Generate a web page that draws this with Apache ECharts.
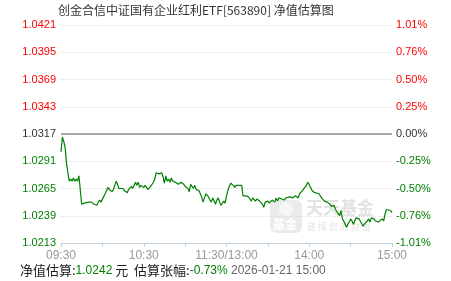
<!DOCTYPE html>
<html>
<head>
<meta charset="utf-8">
<script src="https://cdn.jsdelivr.net/npm/echarts@6/dist/echarts.min.js"></script>
<style>
html,body{margin:0;padding:0;background:#fff;}
#c{width:451px;height:281px;}
</style>
</head>
<body>
<div id="c"></div>
<script>
// ---- data ----
var titleText = '创金合信中证国有企业红利ETF[563890] 净值估算图';
var baseNav = 1.0317;
var navStep = 0.0026;
var leftLabels = ['1.0213','1.0239','1.0265','1.0291','1.0317','1.0343','1.0369','1.0395','1.0421'];
var rightLabels = ['-1.01%','-0.76%','-0.50%','-0.25%','0.00%','0.25%','0.50%','0.76%','1.01%'];
var timeLabels = ['09:30','10:30','11:30/13:00','14:00','15:00'];
var minutes = [0,1,2,3,4,5,6,7,8,9,10,11,12,13,14,15,16,17,18,20,21,22,23,24,26,27,28,29,30,32,33,34,35,37,38,39,40,41,42,43,45,46,47,48,49,51,52,53,54,55,56,57,58,60,61,62,63,65,67,68,69,71,72,73,74,75,76,77,78,79,80,81,83,84,85,86,87,89,90,91,92,93,94,95,96,97,98,100,101,102,103,104,105,106,107,108,109,110,111,112,113,114,115,116,117,118,119,120,121,122,123,124,125,126,127,128,129,130,131,132,133,134,135,136,137,138,139,141,142,143,144,145,146,147,148,150,151,152,153,155,156,157,158,160,161,162,163,164,166,167,168,169,170,172,173,174,175,176,178,179,180,181,182,183,184,185,187,188,189,190,191,193,194,195,196,198,199,200,201,202,203,204,205,206,207,208,209,210,211,212,213,214,216,217,218,219,220,222,223,224,225,227,228,229,230,231,233,234,235,236,237,239,240];
var navs = [1.0300,1.0314,1.0310,1.0304,1.0289,1.0280,1.0272,1.0274,1.0272,1.0275,1.0272,1.0274,1.0272,1.0277,1.0276,1.0250,1.0250,1.0251,1.0250,1.0252,1.0253,1.0252,1.0252,1.0250,1.0249,1.0252,1.0254,1.0252,1.0253,1.0260,1.0263,1.0266,1.0264,1.0262,1.0264,1.0263,1.0272,1.0269,1.0265,1.0264,1.0265,1.0263,1.0262,1.0261,1.0264,1.0267,1.0265,1.0268,1.0271,1.0268,1.0271,1.0266,1.0268,1.0266,1.0268,1.0266,1.0264,1.0267,1.0271,1.0274,1.0280,1.0279,1.0280,1.0280,1.0276,1.0270,1.0277,1.0272,1.0274,1.0271,1.0275,1.0272,1.0271,1.0271,1.0269,1.0268,1.0271,1.0269,1.0267,1.0268,1.0265,1.0262,1.0269,1.0268,1.0265,1.0268,1.0264,1.0263,1.0260,1.0257,1.0252,1.0256,1.0260,1.0261,1.0257,1.0254,1.0252,1.0256,1.0253,1.0250,1.0254,1.0256,1.0252,1.0249,1.0251,1.0253,1.0251,1.0258,1.0263,1.0267,1.0270,1.0271,1.0268,1.0266,1.0268,1.0267,1.0268,1.0269,1.0268,1.0258,1.0259,1.0258,1.0257,1.0257,1.0255,1.0253,1.0256,1.0253,1.0255,1.0256,1.0253,1.0252,1.0250,1.0247,1.0252,1.0253,1.0251,1.0252,1.0254,1.0252,1.0256,1.0253,1.0256,1.0255,1.0256,1.0254,1.0256,1.0255,1.0257,1.0256,1.0256,1.0256,1.0258,1.0256,1.0260,1.0261,1.0263,1.0264,1.0268,1.0271,1.0272,1.0266,1.0263,1.0264,1.0261,1.0261,1.0260,1.0259,1.0256,1.0255,1.0253,1.0252,1.0252,1.0250,1.0248,1.0249,1.0245,1.0244,1.0241,1.0239,1.0244,1.0236,1.0234,1.0233,1.0228,1.0231,1.0233,1.0236,1.0234,1.0231,1.0234,1.0237,1.0236,1.0234,1.0233,1.0229,1.0231,1.0234,1.0236,1.0233,1.0237,1.0236,1.0234,1.0233,1.0233,1.0233,1.0236,1.0234,1.0241,1.0245,1.0245,1.0244,1.0242];
var baseLineMinutes = [0, 240];
var footerNav = '1.0242';
var footerChange = '-0.73%';
var footerTime = '2026-01-21 15:00';

// ---- chart ----
var seriesData = minutes.map(function (m, i) { return [m, navs[i]]; });
var baseLineData = baseLineMinutes.map(function (m) { return [m, baseNav]; });
function labelColor(v, idx) {
  if (idx > 4) return '#ff0000';
  if (idx === 4) return '#333333';
  return '#008000';
}
var chart = echarts.init(document.getElementById('c'), null, {renderer: 'canvas'});
chart.setOption({
  animation: false,
  backgroundColor: '#ffffff',
  title: {
    text: titleText,
    left: 58, top: 4, padding: 0,
    textStyle: {fontFamily: '"Noto Sans CJK SC", sans-serif', fontSize: 12, fontWeight: 'normal', color: '#333333'}
  },
  grid: {left: 61, right: 59, top: 25, bottom: 38, containLabel: false},
  xAxis: {
    type: 'value', min: 0, max: 240, interval: 30,
    axisLine: {show: true, lineStyle: {color: '#c2cfdc', width: 1}},
    axisTick: {show: true, length: 4, lineStyle: {color: '#c2cfdc'}},
    splitLine: {show: false},
    axisLabel: {
      margin: 7, color: '#999999', fontSize: 12, fontFamily: '"Liberation Sans", Arial, sans-serif',
      formatter: function (v) { return v % 60 === 0 ? timeLabels[v / 60] : ''; }
    }
  },
  yAxis: [{
    type: 'value', min: baseNav - 4 * navStep, max: baseNav + 4 * navStep, interval: navStep,
    axisLine: {show: false}, axisTick: {show: false},
    splitLine: {show: true, lineStyle: {color: '#dddddd', type: 'dotted', width: 1}},
    axisLabel: {
      margin: 5, fontSize: 11, fontFamily: '"Liberation Sans", Arial, sans-serif',
      color: labelColor,
      formatter: function (v, idx) { return leftLabels[idx]; }
    }
  }, {
    type: 'value', min: baseNav - 4 * navStep, max: baseNav + 4 * navStep, interval: navStep,
    position: 'right',
    axisLine: {show: false}, axisTick: {show: false}, splitLine: {show: false},
    axisLabel: {
      margin: 4, fontSize: 11, fontFamily: '"Liberation Sans", Arial, sans-serif',
      color: labelColor,
      formatter: function (v, idx) { return rightLabels[idx]; }
    }
  }],
  graphic: [
    {type: 'rect', left: 270, top: 200, shape: {width: 32, height: 33, r: 6}, style: {fill: '#ebebeb'}, z: 0},
    {type: 'circle', left: 279, top: 202, shape: {r: 7}, style: {fill: '#f6f6f6'}, z: 0},
    {type: 'text', left: 273, top: 218, style: {text: '基金', fill: '#ffffff', font: 'bold 12px "Noto Sans CJK SC"'}, z: 0},
    {type: 'text', left: 306, top: 199, style: {text: '天天基金', fill: '#e3e3e3', font: 'bold 17px "Noto Sans CJK SC"'}, z: 0},
    {type: 'text', left: 307, top: 222, style: {text: '链 接 您 的 财 富', fill: '#e3e3e3', font: '9px "Noto Sans CJK SC"'}, z: 0},
    {
      type: 'text', left: 20, top: 264, z: 10,
      style: {
        text: '{k|净值估算:}{g|' + footerNav + '}{k| 元  估算张幅:}{g|' + footerChange + '}{d| ' + footerTime + '}',
        rich: {
          k: {fontSize: 13, fontFamily: '"Noto Sans CJK SC", sans-serif', fill: '#222222', color: '#222222'},
          g: {fontSize: 12, fontFamily: '"Liberation Sans", Arial, sans-serif', fill: '#008000', color: '#008000'},
          d: {fontSize: 12, fontFamily: '"Liberation Sans", Arial, sans-serif', fill: '#666666', color: '#666666'}
        }
      }
    }
  ],
  series: [{
    type: 'line',
    data: baseLineData,
    showSymbol: false,
    symbol: 'none',
    silent: true,
    z: 3,
    lineStyle: {color: '#8c8c8c', type: 'solid', width: 1.5}
  }, {
    type: 'line',
    data: seriesData,
    showSymbol: false,
    symbol: 'none',
    z: 5,
    lineStyle: {color: '#008000', width: 1.2}
  }]
});
</script>
</body>
</html>
